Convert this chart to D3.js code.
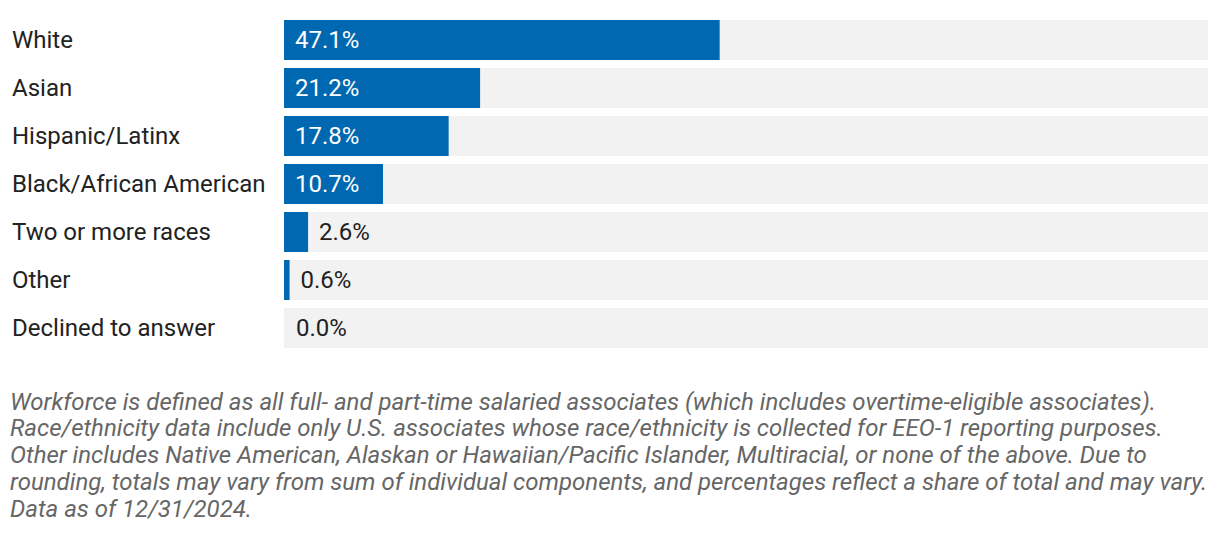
<!DOCTYPE html>
<html><head><meta charset="utf-8">
<script src="https://cdn.jsdelivr.net/npm/d3@7"></script>
<style>
html,body{margin:0;padding:0;background:#fff;}
svg{display:block;}
</style></head>
<body>
<script>
const categories = ["White","Asian","Hispanic/Latinx","Black/African American","Two or more races","Other","Declined to answer"];
const values = [47.1,21.2,17.8,10.7,2.6,0.6,0.0];
const footnoteLines = [
"Workforce is defined as all full- and part-time salaried associates (which includes overtime-eligible associates).",
"Race/ethnicity data include only U.S. associates whose race/ethnicity is collected for EEO-1 reporting purposes.",
"Other includes Native American, Alaskan or Hawaiian/Pacific Islander, Multiracial, or none of the above. Due to",
"rounding, totals may vary from sum of individual components, and percentages reflect a share of total and may vary.",
"Data as of 12/31/2024."
];

const W = 1220, H = 538;
const svg = d3.select("body").append("svg").attr("width",W).attr("height",H);
const font = "Roboto, 'Noto Sans', sans-serif";

const x = d3.scaleLinear().domain([0,100]).range([284,1209]);
const y = d3.scaleBand().domain(categories).range([20,348]).paddingInner(8/48).paddingOuter(0);

const rows = svg.selectAll("g.row").data(categories.map((c,i)=>({c,v:values[i]}))).enter()
  .append("g").attr("class","row");

rows.append("rect").attr("x",x(0)).attr("y",d=>y(d.c)).attr("width",1208-x(0)).attr("height",y.bandwidth()).attr("fill","#f2f2f2");
rows.append("rect").attr("x",x(0)).attr("y",d=>y(d.c)).attr("width",d=>x(d.v)-x(0)).attr("height",y.bandwidth()).attr("fill","#0068b1");

rows.append("text").attr("x",12).attr("y",d=>y(d.c)+y.bandwidth()/2).attr("dy","0.33em")
  .attr("font-family",font).attr("font-size",24).attr("fill","#222").text(d=>d.c);

rows.append("text")
  .attr("x",d=> (x(d.v)-x(0) > 70) ? x(0)+11 : (d.v>0 ? x(d.v)+11 : x(0)+12))
  .attr("y",d=>y(d.c)+y.bandwidth()/2).attr("dy","0.33em")
  .attr("font-family",font).attr("font-size",24)
  .attr("fill",d=> (x(d.v)-x(0) > 70) ? "#fff" : "#222")
  .text(d=>d.v.toFixed(1)+"%");

svg.append("g").selectAll("text").data(footnoteLines).enter().append("text")
  .attr("x",10).attr("y",(d,i)=>409.5+i*26.8)
  .attr("font-family",font).attr("font-style","italic").attr("font-size",24)
  .attr("fill","#666").text(d=>d);
</script>
</body></html>
